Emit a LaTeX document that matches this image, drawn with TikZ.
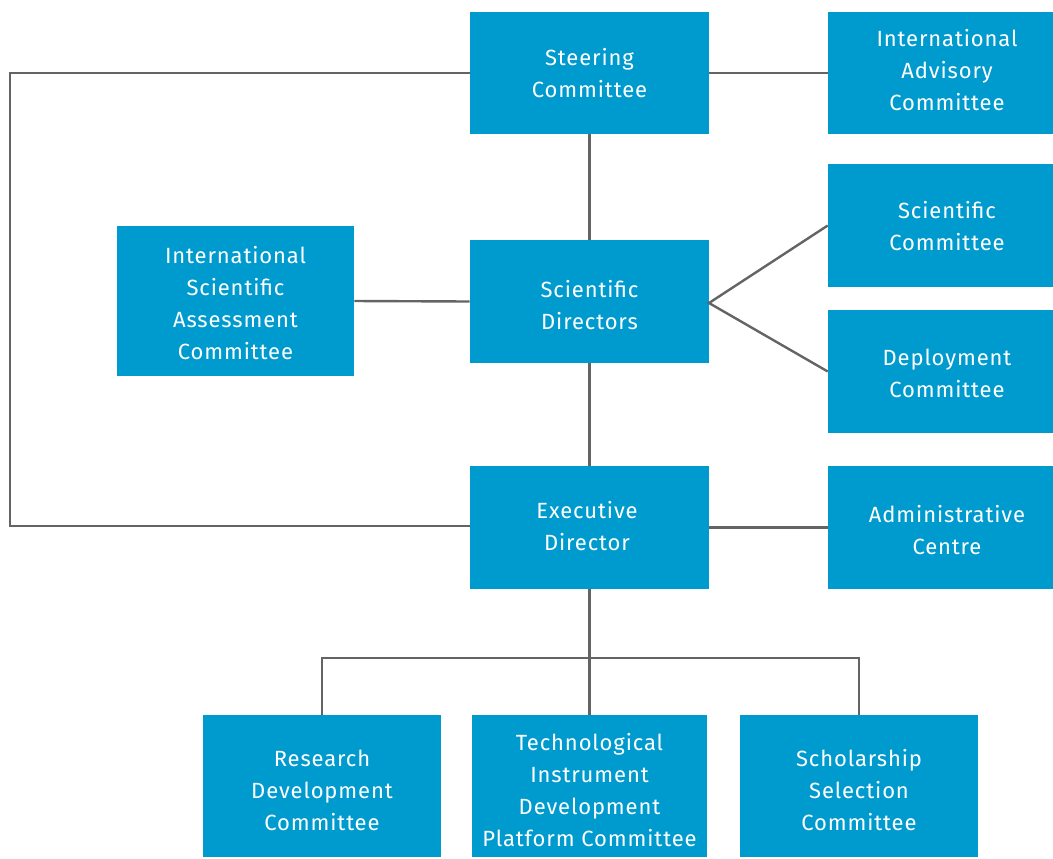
\documentclass[tikz,border=0pt]{standalone}
\usepackage{fontspec}
\setmainfont{Fira Sans}[LetterSpace=4]
\begin{document}
\begin{tikzpicture}[x=0.75pt,y=-0.75pt,
  box/.style={fill=boxblue,text=white,inner sep=0pt,align=center,
    font=\fontsize{16.5pt}{24pt}\selectfont},
  link/.style={draw=linegray,line width=1.8pt}]
\definecolor{boxblue}{RGB}{0,155,206}
\definecolor{linegray}{RGB}{100,100,100}
\useasboundingbox (0,0) rectangle (1053,858);
\node[box,minimum width=239*0.75pt,minimum height=122*0.75pt] (sc) at (589.5,73) {Steering\\Committee};
\node[box,minimum width=225*0.75pt,minimum height=122*0.75pt] (iac) at (940.5,73) {};
\node[box,fill=none] (iact) at (947,70) {International\\Advisory\\Committee};
\node[box,minimum width=225*0.75pt,minimum height=123*0.75pt] (scc) at (940.5,225.5) {};
\node[box,fill=none] (scct) at (947,226) {Scientific\\Committee};
\node[box,minimum width=225*0.75pt,minimum height=123*0.75pt] (dc) at (940.5,371.5) {};
\node[box,fill=none] (dct) at (947,373) {Deployment\\Committee};
\node[box,minimum width=237*0.75pt,minimum height=150*0.75pt] (isac) at (235.5,301) {};
\node[box,fill=none] (isact) at (235.5,303) {International\\Scientific\\Assessment\\Committee};
\node[box,minimum width=239*0.75pt,minimum height=123*0.75pt] (sd) at (589.5,301.5) {};
\node[box,fill=none] (sdt) at (589.5,305) {Scientific\\Directors};
\node[box,minimum width=239*0.75pt,minimum height=123*0.75pt] (ed) at (589.5,527.5) {};
\node[box,fill=none] (edt) at (587,526) {Executive\\Director};
\node[box,minimum width=225*0.75pt,minimum height=123*0.75pt] (ac) at (940.5,527.5) {};
\node[box,fill=none] (act) at (947,530) {Administrative\\Centre};
\node[box,minimum width=238*0.75pt,minimum height=142*0.75pt] (rdc) at (322,786) {};
\node[box,fill=none] (rdct) at (322,790) {Research\\Development\\Committee};
\node[box,minimum width=235*0.75pt,minimum height=142*0.75pt] (tid) at (589.5,786) {};
\node[box,fill=none] (tidt) at (589.5,790) {Technological\\Instrument\\Development\\Platform Committee};
\node[box,minimum width=238*0.75pt,minimum height=142*0.75pt] (ssc) at (859,786) {};
\node[box,fill=none] (ssct) at (859,790) {Scholarship\\Selection\\Committee};
% connectors
\coordinate (l1) at (10,73);
\coordinate (l2) at (10,526);
\draw[link] (sc.west) -- (l1) -- (l2) -- (ed.west |- l2);
\draw[link] (sc.east) -- (iac.west);
\draw[link] (sc.south) -- (sd.north);
\draw[link] (isac.east) -- (sd.west);
\coordinate (sdp) at (709,303);
\draw[link] (scc.west) -- (sdp) -- (dc.west);
\draw[link] (sd.south) -- (ed.north);
\draw[link] (ed.east) -- (ac.west);
\coordinate (bh) at (589.5,658);
\draw[link] (ed.south) -- (tid.north);
\draw[link] (rdc.north) -- (rdc.north |- bh) -- (ssc.north |- bh) -- (ssc.north);
\end{tikzpicture}
\end{document}
